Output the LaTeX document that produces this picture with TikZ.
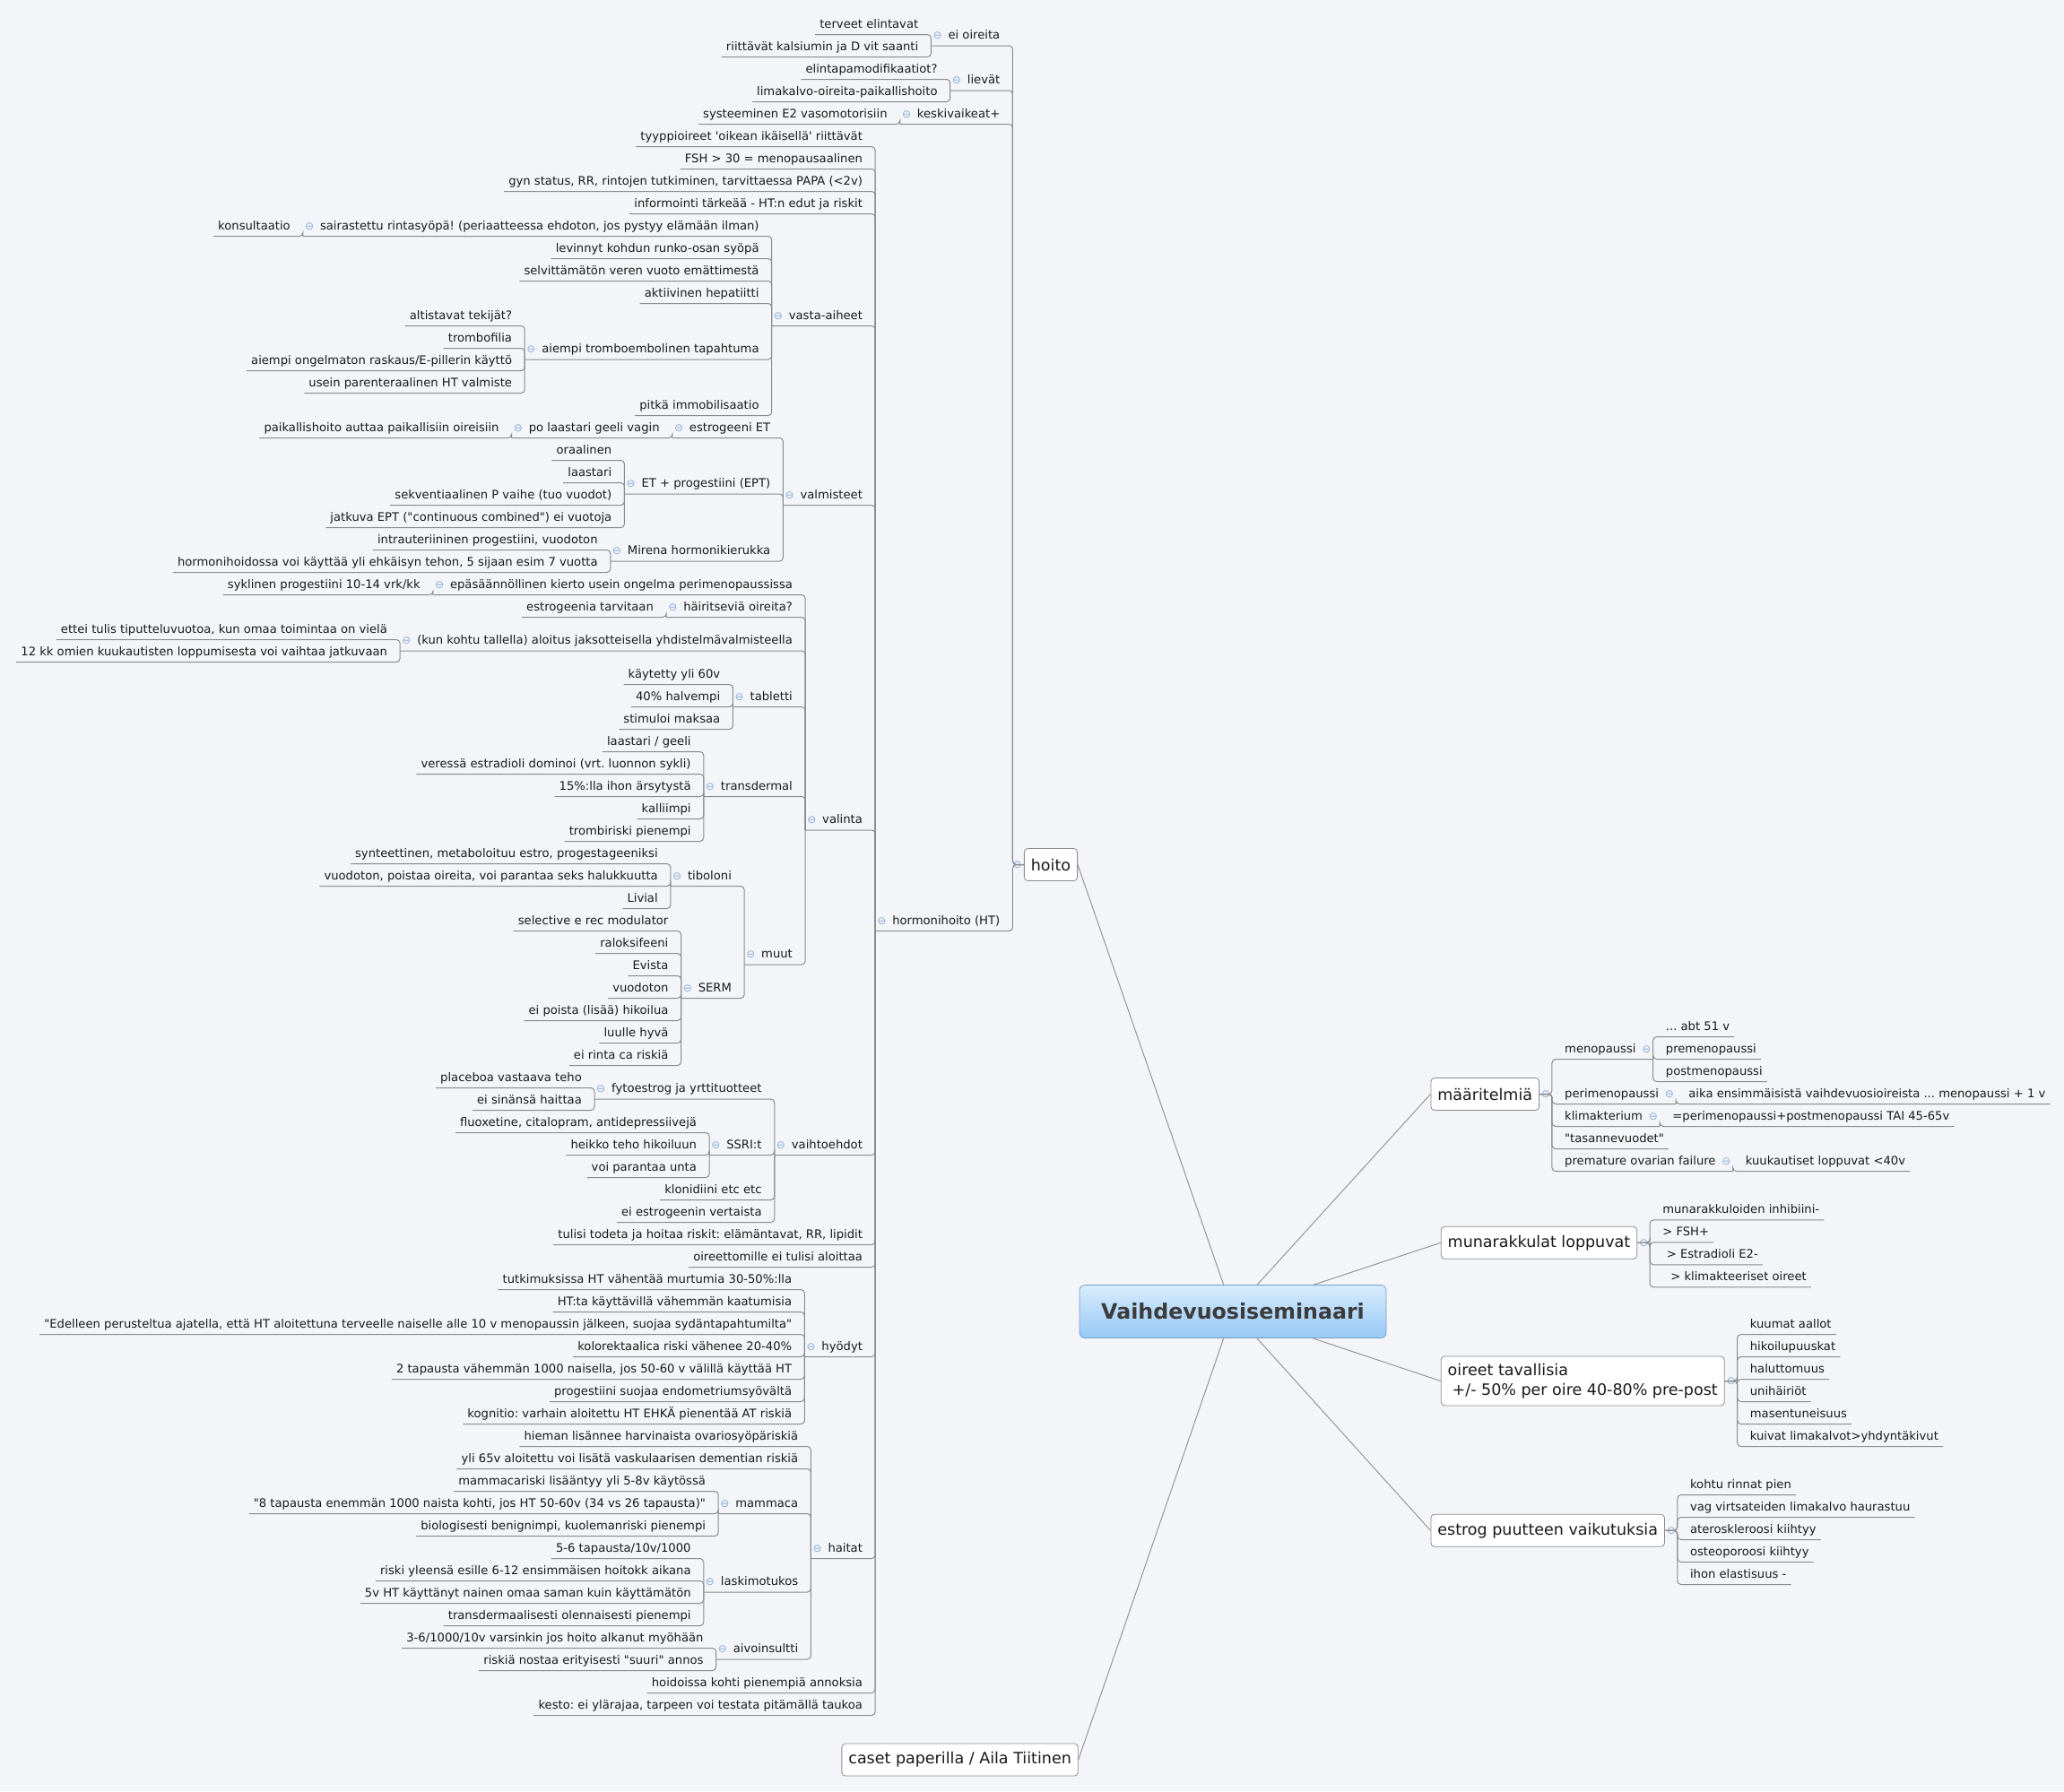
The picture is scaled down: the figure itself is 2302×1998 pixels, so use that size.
\documentclass[tikz,border=0pt]{standalone}
\usepackage{fontspec}
\setmainfont{DejaVu Sans}[Ligatures=TeXOff]
\frenchspacing

\definecolor{MapBack}{RGB}{243,245,248}
\definecolor{MapLine}{RGB}{140,140,140}
\definecolor{MapSpoke}{RGB}{150,150,150}
\definecolor{MapEdge}{RGB}{140,140,140}
\definecolor{MapFold}{RGB}{140,172,218}
\definecolor{MapText}{RGB}{25,25,25}
\definecolor{RootTop}{RGB}{216,236,253}
\definecolor{RootBottom}{RGB}{150,200,245}
\definecolor{RootEdge}{RGB}{120,160,200}
\definecolor{RootText}{RGB}{60,60,60}

\newcommand\leaffont{\fontsize{13.15pt}{15pt}\selectfont}
\newcommand\boxfont{\fontsize{17.5pt}{22pt}\selectfont}
\newcommand\rootfont{\fontsize{23.7pt}{28pt}\selectfont\bfseries}
\newcommand\foldmark{{\fontsize{12pt}{12pt}\selectfont\color{MapFold}⊖}}
\newcommand\foldL{\hspace*{-3pt}\foldmark\hspace*{6.9pt}}
\newcommand\foldR{\hspace*{6.9pt}\foldmark\hspace*{-3pt}}

\begin{document}
\begin{tikzpicture}[x=1pt, y=-1pt,
    lk/.style={draw=MapLine, line width=1pt, rounded corners=4pt},
    spoke/.style={draw=MapSpoke, line width=1pt},
    topic/.style={font=\leaffont, text=MapText, inner xsep=5pt, inner ysep=3.9pt, text height=13.4pt, text depth=3.4pt},
    subL/.style={topic, anchor=east, xshift=-9pt},
    subR/.style={topic, anchor=west, xshift=9pt},
    mapbox/.style={draw=MapEdge, fill=white, rounded corners=4pt, line width=0.8pt, font=\boxfont, text=MapText, inner xsep=7.5pt, inner ysep=8pt, minimum height=36pt},
    boxL/.style={mapbox, anchor=east, label={[inner sep=0pt, xshift=-2pt]west:\foldmark}},
    boxR/.style={mapbox, anchor=west, label={[inner sep=0pt, xshift=2pt]east:\foldmark}},
    rootbox/.style={draw=RootEdge, top color=RootTop, bottom color=RootBottom, rounded corners=6pt, line width=0.8pt, font=\rootfont, text=RootText, minimum width=342pt, minimum height=59pt}]

  % page and background
  \useasboundingbox (0,0) rectangle (2302,1998);
  \fill[MapBack] (0,0) rectangle (2302,1998);

  % central topic and main topics
  \node[rootbox] (root) at (1375,1463) {Vaihdevuosiseminaari};
  \node[boxL] (hoito) at (1202,964.5) {hoito};
  \node[mapbox, anchor=east] (caset) at (1202.7,1963) {caset paperilla / Aila Tiitinen};
  \node[boxR] (maaritelmia) at (1595.5,1220.5) {määritelmiä};
  \node[boxR] (munarakkulat) at (1606.8,1386.3) {munarakkulat loppuvat};
  \node[boxR, align=left] (oireet) at (1606.8,1540.5) {oireet tavallisia\\\hspace*{5pt}+/- 50\% per oire 40-80\% pre-post};
  \node[boxR] (estrog) at (1595.5,1707.3) {estrog puutteen vaikutuksia};

  \draw[spoke] (root) -- (hoito.east);
  \draw[spoke] (root) -- (caset.east);
  \draw[spoke] (root) -- (maaritelmia.west);
  \draw[spoke] (root) -- (munarakkulat.west);
  \draw[spoke] (root) -- (oireet.west);
  \draw[spoke] (root) -- (estrog.west);

  % hoito branch
  \node[subL, xshift=-12.5pt] (eiOireita) at (hoito.west |- 0,38.5) {\foldL ei oireita};
  \node[subL, xshift=-12.5pt] (lievat) at (hoito.west |- 0,88.5) {\foldL lievät};
  \node[subL, xshift=-12.5pt] (keskivaikeat) at (hoito.west |- 0,126) {\foldL keskivaikeat+};
  \node[subL, xshift=-12.5pt] (hormoni) at (hoito.west |- 0,1026) {\foldL hormonihoito (HT)};

  \node[subL] (terveet) at (eiOireita.west |- 0,26) {terveet elintavat};
  \node[subL] (kalsium) at (eiOireita.west |- 0,51) {riittävät kalsiumin ja D vit saanti};
  \node[subL] (elintapa) at (lievat.west |- 0,76) {elintapamodifikaatiot?};
  \node[subL] (limakalvo) at (lievat.west |- 0,101) {limakalvo-oireita-paikallishoito};
  \node[subL] (systeeminen) at (keskivaikeat.west |- 0,126) {systeeminen E2 vasomotorisiin};

  % hormonihoito (HT)
  \node[subL] (tyyppi) at (hormoni.west |- 0,151) {tyyppioireet 'oikean ikäisellä' riittävät};
  \node[subL] (fsh) at (hormoni.west |- 0,176) {FSH > 30 = menopausaalinen};
  \node[subL] (gyn) at (hormoni.west |- 0,201) {gyn status, RR, rintojen tutkiminen, tarvittaessa PAPA (<2v)};
  \node[subL] (informointi) at (hormoni.west |- 0,226) {informointi tärkeää - HT:n edut ja riskit};
  \node[subL] (vasta) at (hormoni.west |- 0,351) {\foldL vasta-aiheet};
  \node[subL] (valmisteet) at (hormoni.west |- 0,551) {\foldL valmisteet};
  \node[subL] (valinta) at (hormoni.west |- 0,913.5) {\foldL valinta};
  \node[subL] (vaihtoehdot) at (hormoni.west |- 0,1276) {\foldL vaihtoehdot};
  \node[subL] (riskit) at (hormoni.west |- 0,1376) {tulisi todeta ja hoitaa riskit: elämäntavat, RR, lipidit};
  \node[subL] (oireettomille) at (hormoni.west |- 0,1401) {oireettomille ei tulisi aloittaa};
  \node[subL] (hyodyt) at (hormoni.west |- 0,1501) {\foldL hyödyt};
  \node[subL] (haitat) at (hormoni.west |- 0,1726) {\foldL haitat};
  \node[subL] (annoksia) at (hormoni.west |- 0,1876) {hoidoissa kohti pienempiä annoksia};
  \node[subL] (kesto) at (hormoni.west |- 0,1901) {kesto: ei ylärajaa, tarpeen voi testata pitämällä taukoa};

  % vasta-aiheet
  \node[subL] (sairastettu) at (vasta.west |- 0,251) {\foldL sairastettu rintasyöpä! (periaatteessa ehdoton, jos pystyy elämään ilman)};
  \node[subL] (konsultaatio) at (sairastettu.west |- 0,251) {konsultaatio};
  \node[subL] (levinnyt) at (vasta.west |- 0,276) {levinnyt kohdun runko-osan syöpä};
  \node[subL] (selvittamaton) at (vasta.west |- 0,301) {selvittämätön veren vuoto emättimestä};
  \node[subL] (hepatiitti) at (vasta.west |- 0,326) {aktiivinen hepatiitti};
  \node[subL] (trombo) at (vasta.west |- 0,388.5) {\foldL aiempi tromboembolinen tapahtuma};
  \node[subL] (altistavat) at (trombo.west |- 0,351) {altistavat tekijät?};
  \node[subL] (trombofilia) at (trombo.west |- 0,376) {trombofilia};
  \node[subL] (ongelmaton) at (trombo.west |- 0,401) {aiempi ongelmaton raskaus/E-pillerin käyttö};
  \node[subL] (parenteraalinen) at (trombo.west |- 0,426) {usein parenteraalinen HT valmiste};
  \node[subL] (immob) at (vasta.west |- 0,451) {pitkä immobilisaatio};

  % valmisteet
  \node[subL] (estrogeeniET) at (valmisteet.west |- 0,476) {\foldL estrogeeni ET};
  \node[subL] (poLaastari) at (estrogeeniET.west |- 0,476) {\foldL po laastari geeli vagin};
  \node[subL] (paikallis) at (poLaastari.west |- 0,476) {paikallishoito auttaa paikallisiin oireisiin};
  \node[subL] (ept) at (valmisteet.west |- 0,538.5) {\foldL ET + progestiini (EPT)};
  \node[subL] (oraalinen) at (ept.west |- 0,501) {oraalinen};
  \node[subL] (laastari) at (ept.west |- 0,526) {laastari};
  \node[subL] (sekventiaalinen) at (ept.west |- 0,551) {sekventiaalinen P vaihe (tuo vuodot)};
  \node[subL] (jatkuva) at (ept.west |- 0,576) {jatkuva EPT ("continuous combined") ei vuotoja};
  \node[subL] (mirena) at (valmisteet.west |- 0,613.5) {\foldL Mirena hormonikierukka};
  \node[subL] (intrauter) at (mirena.west |- 0,601) {intrauteriininen progestiini, vuodoton};
  \node[subL] (ehkaisy) at (mirena.west |- 0,626) {hormonihoidossa voi käyttää yli ehkäisyn tehon, 5 sijaan esim 7 vuotta};

  % valinta
  \node[subL] (kierto) at (valinta.west |- 0,651) {\foldL epäsäännöllinen kierto usein ongelma perimenopaussissa};
  \node[subL] (syklinen) at (kierto.west |- 0,651) {syklinen progestiini 10-14 vrk/kk};
  \node[subL] (hairitsevia) at (valinta.west |- 0,676) {\foldL häiritseviä oireita?};
  \node[subL] (tarvitaan) at (hairitsevia.west |- 0,676) {estrogeenia tarvitaan};
  \node[subL] (kohtu) at (valinta.west |- 0,713.5) {\foldL (kun kohtu tallella) aloitus jaksotteisella yhdistelmävalmisteella};
  \node[subL] (tiputtelu) at (kohtu.west |- 0,701) {ettei tulis tiputteluvuotoa, kun omaa toimintaa on vielä};
  \node[subL] (jatkuvaan) at (kohtu.west |- 0,726) {12 kk omien kuukautisten loppumisesta voi vaihtaa jatkuvaan};
  \node[subL] (tabletti) at (valinta.west |- 0,776) {\foldL tabletti};
  \node[subL] (kaytetty) at (tabletti.west |- 0,751) {käytetty yli 60v};
  \node[subL] (halvempi) at (tabletti.west |- 0,776) {40\% halvempi};
  \node[subL] (maksaa) at (tabletti.west |- 0,801) {stimuloi maksaa};
  \node[subL] (transdermal) at (valinta.west |- 0,876) {\foldL transdermal};
  \node[subL] (geeli) at (transdermal.west |- 0,826) {laastari / geeli};
  \node[subL] (estradioli) at (transdermal.west |- 0,851) {veressä estradioli dominoi (vrt. luonnon sykli)};
  \node[subL] (arsytys) at (transdermal.west |- 0,876) {15\%:lla ihon ärsytystä};
  \node[subL] (kalliimpi) at (transdermal.west |- 0,901) {kalliimpi};
  \node[subL] (trombiriski) at (transdermal.west |- 0,926) {trombiriski pienempi};
  \node[subL] (muut) at (valinta.west |- 0,1063.5) {\foldL muut};
  \node[subL] (tiboloni) at (muut.west |- 0,976) {\foldL tiboloni};
  \node[subL] (synteettinen) at (tiboloni.west |- 0,951) {synteettinen, metaboloituu estro, progestageeniksi};
  \node[subL] (halukkuus) at (tiboloni.west |- 0,976) {vuodoton, poistaa oireita, voi parantaa seks halukkuutta};
  \node[subL] (livial) at (tiboloni.west |- 0,1001) {Livial};
  \node[subL] (serm) at (muut.west |- 0,1101) {\foldL SERM};
  \node[subL] (selective) at (serm.west |- 0,1026) {selective e rec modulator};
  \node[subL] (raloksifeeni) at (serm.west |- 0,1051) {raloksifeeni};
  \node[subL] (evista) at (serm.west |- 0,1076) {Evista};
  \node[subL] (vuodoton) at (serm.west |- 0,1101) {vuodoton};
  \node[subL] (hikoilua) at (serm.west |- 0,1126) {ei poista (lisää) hikoilua};
  \node[subL] (luulle) at (serm.west |- 0,1151) {luulle hyvä};
  \node[subL] (rintaCa) at (serm.west |- 0,1176) {ei rinta ca riskiä};

  % vaihtoehdot
  \node[subL] (fyto) at (vaihtoehdot.west |- 0,1213.5) {\foldL fytoestrog ja yrttituotteet};
  \node[subL] (placebo) at (fyto.west |- 0,1201) {placeboa vastaava teho};
  \node[subL] (haittaa) at (fyto.west |- 0,1226) {ei sinänsä haittaa};
  \node[subL] (ssri) at (vaihtoehdot.west |- 0,1276) {\foldL SSRI:t};
  \node[subL] (fluoxetine) at (ssri.west |- 0,1251) {fluoxetine, citalopram, antidepressiivejä};
  \node[subL] (heikko) at (ssri.west |- 0,1276) {heikko teho hikoiluun};
  \node[subL] (unta) at (ssri.west |- 0,1301) {voi parantaa unta};
  \node[subL] (klonidiini) at (vaihtoehdot.west |- 0,1326) {klonidiini etc etc};
  \node[subL] (vertaista) at (vaihtoehdot.west |- 0,1351) {ei estrogeenin vertaista};

  % hyödyt
  \node[subL] (murtumia) at (hyodyt.west |- 0,1426) {tutkimuksissa HT vähentää murtumia 30-50\%:lla};
  \node[subL] (kaatumisia) at (hyodyt.west |- 0,1451) {HT:ta käyttävillä vähemmän kaatumisia};
  \node[subL] (edelleen) at (hyodyt.west |- 0,1476) {"Edelleen perusteltua ajatella, että HT aloitettuna terveelle naiselle alle 10 v menopaussin jälkeen, suojaa sydäntapahtumilta"};
  \node[subL] (kolorektaali) at (hyodyt.west |- 0,1501) {kolorektaalica riski vähenee 20-40\%};
  \node[subL] (tapausta) at (hyodyt.west |- 0,1526) {2 tapausta vähemmän 1000 naisella, jos 50-60 v välillä käyttää HT};
  \node[subL] (endometrium) at (hyodyt.west |- 0,1551) {progestiini suojaa endometriumsyövältä};
  \node[subL] (kognitio) at (hyodyt.west |- 0,1576) {kognitio: varhain aloitettu HT EHKÄ pienentää AT riskiä};

  % haitat
  \node[subL] (ovario) at (haitat.west |- 0,1601) {hieman lisännee harvinaista ovariosyöpäriskiä};
  \node[subL] (dementia) at (haitat.west |- 0,1626) {yli 65v aloitettu voi lisätä vaskulaarisen dementian riskiä};
  \node[subL] (mammaca) at (haitat.west |- 0,1676) {\foldL mammaca};
  \node[subL] (mammaRiski) at (mammaca.west |- 0,1651) {mammacariski lisääntyy yli 5-8v käytössä};
  \node[subL] (kahdeksan) at (mammaca.west |- 0,1676) {"8 tapausta enemmän 1000 naista kohti, jos HT 50-60v (34 vs 26 tapausta)"};
  \node[subL] (benigni) at (mammaca.west |- 0,1701) {biologisesti benignimpi, kuolemanriski pienempi};
  \node[subL] (laskimo) at (haitat.west |- 0,1763.5) {\foldL laskimotukos};
  \node[subL] (kuusi) at (laskimo.west |- 0,1726) {5-6 tapausta/10v/1000};
  \node[subL] (hoitokk) at (laskimo.west |- 0,1751) {riski yleensä esille 6-12 ensimmäisen hoitokk aikana};
  \node[subL] (viisiv) at (laskimo.west |- 0,1776) {5v HT käyttänyt nainen omaa saman kuin käyttämätön};
  \node[subL] (transdermaali) at (laskimo.west |- 0,1801) {transdermaalisesti olennaisesti pienempi};
  \node[subL] (aivo) at (haitat.west |- 0,1838.5) {\foldL aivoinsultti};
  \node[subL] (myohaan) at (aivo.west |- 0,1826) {3-6/1000/10v varsinkin jos hoito alkanut myöhään};
  \node[subL] (annos) at (aivo.west |- 0,1851) {riskiä nostaa erityisesti "suuri" annos};

  % right side: määritelmiä
  \node[subR, xshift=14pt] (menopaussi) at (maaritelmia.east |- 0,1169) {menopaussi\foldR};
  \node[subR] (abt) at (menopaussi.east |- 0,1144) {... abt 51 v};
  \node[subR] (premeno) at (menopaussi.east |- 0,1169) {premenopaussi};
  \node[subR] (postmeno) at (menopaussi.east |- 0,1194) {postmenopaussi};
  \node[subR, xshift=14pt] (perimeno) at (maaritelmia.east |- 0,1219) {perimenopaussi\foldR};
  \node[subR] (aika) at (perimeno.east |- 0,1219) {aika ensimmäisistä vaihdevuosioireista ... menopaussi + 1 v};
  \node[subR, xshift=14pt] (klimakterium) at (maaritelmia.east |- 0,1244) {klimakterium\foldR};
  \node[subR] (klimDef) at (klimakterium.east |- 0,1244) {=perimenopaussi+postmenopaussi TAI 45-65v};
  \node[subR, xshift=14pt] (tasanne) at (maaritelmia.east |- 0,1269) {"tasannevuodet"};
  \node[subR, xshift=14pt] (premature) at (maaritelmia.east |- 0,1294) {premature ovarian failure\foldR};
  \node[subR] (alle40) at (premature.east |- 0,1294) {kuukautiset loppuvat <40v};

  % munarakkulat loppuvat
  \node[subR, xshift=14pt] (inhibiini) at (munarakkulat.east |- 0,1348.3) {munarakkuloiden inhibiini-};
  \node[subR, xshift=14pt] (fshPlus) at (munarakkulat.east |- 0,1373.3) {> FSH+};
  \node[subR, xshift=14pt] (estradioliMinus) at (munarakkulat.east |- 0,1398.3) {\hspace*{4.5pt}> Estradioli E2-};
  \node[subR, xshift=14pt] (klimOireet) at (munarakkulat.east |- 0,1423.3) {\hspace*{9pt}> klimakteeriset oireet};

  % oireet tavallisia
  \node[subR, xshift=14pt] (kuumat) at (oireet.east |- 0,1476) {kuumat aallot};
  \node[subR, xshift=14pt] (puuskat) at (oireet.east |- 0,1501) {hikoilupuuskat};
  \node[subR, xshift=14pt] (haluttomuus) at (oireet.east |- 0,1526) {haluttomuus};
  \node[subR, xshift=14pt] (unihairiot) at (oireet.east |- 0,1551) {unihäiriöt};
  \node[subR, xshift=14pt] (masentuneisuus) at (oireet.east |- 0,1576) {masentuneisuus};
  \node[subR, xshift=14pt] (kuivat) at (oireet.east |- 0,1601) {kuivat limakalvot>yhdyntäkivut};

  % estrog puutteen vaikutuksia
  \node[subR, xshift=14pt] (rinnat) at (estrog.east |- 0,1655) {kohtu rinnat pien};
  \node[subR, xshift=14pt] (vag) at (estrog.east |- 0,1680) {vag virtsateiden limakalvo haurastuu};
  \node[subR, xshift=14pt] (atero) at (estrog.east |- 0,1705) {ateroskleroosi kiihtyy};
  \node[subR, xshift=14pt] (osteo) at (estrog.east |- 0,1730) {osteoporoosi kiihtyy};
  \node[subR, xshift=14pt] (ihon) at (estrog.east |- 0,1755) {ihon elastisuus -};

  % connectors, left side
  \foreach \c in {eiOireita,lievat,keskivaikeat,hormoni}
    \draw[lk] (hoito.west) -- ++(-12.5,0) |- (\c.south east) -- (\c.south west);
  \foreach \c in {terveet,kalsium} \draw[lk] (eiOireita.south west) |- (\c.south east) -- (\c.south west);
  \foreach \c in {elintapa,limakalvo} \draw[lk] (lievat.south west) |- (\c.south east) -- (\c.south west);
  \foreach \c in {systeeminen} \draw[lk] (keskivaikeat.south west) |- (\c.south east) -- (\c.south west);
  \foreach \c in {tyyppi,fsh,gyn,informointi,vasta,valmisteet,valinta,vaihtoehdot,riskit,oireettomille,hyodyt,haitat,annoksia,kesto}
    \draw[lk] (hormoni.south west) |- (\c.south east) -- (\c.south west);
  \foreach \c in {sairastettu,levinnyt,selvittamaton,hepatiitti,trombo,immob}
    \draw[lk] (vasta.south west) |- (\c.south east) -- (\c.south west);
  \foreach \c in {konsultaatio} \draw[lk] (sairastettu.south west) |- (\c.south east) -- (\c.south west);
  \foreach \c in {altistavat,trombofilia,ongelmaton,parenteraalinen} \draw[lk] (trombo.south west) |- (\c.south east) -- (\c.south west);
  \foreach \c in {estrogeeniET,ept,mirena} \draw[lk] (valmisteet.south west) |- (\c.south east) -- (\c.south west);
  \foreach \c in {poLaastari} \draw[lk] (estrogeeniET.south west) |- (\c.south east) -- (\c.south west);
  \foreach \c in {paikallis} \draw[lk] (poLaastari.south west) |- (\c.south east) -- (\c.south west);
  \foreach \c in {oraalinen,laastari,sekventiaalinen,jatkuva} \draw[lk] (ept.south west) |- (\c.south east) -- (\c.south west);
  \foreach \c in {intrauter,ehkaisy} \draw[lk] (mirena.south west) |- (\c.south east) -- (\c.south west);
  \foreach \c in {kierto,hairitsevia,kohtu,tabletti,transdermal,muut} \draw[lk] (valinta.south west) |- (\c.south east) -- (\c.south west);
  \foreach \c in {syklinen} \draw[lk] (kierto.south west) |- (\c.south east) -- (\c.south west);
  \foreach \c in {tarvitaan} \draw[lk] (hairitsevia.south west) |- (\c.south east) -- (\c.south west);
  \foreach \c in {tiputtelu,jatkuvaan} \draw[lk] (kohtu.south west) |- (\c.south east) -- (\c.south west);
  \foreach \c in {kaytetty,halvempi,maksaa} \draw[lk] (tabletti.south west) |- (\c.south east) -- (\c.south west);
  \foreach \c in {geeli,estradioli,arsytys,kalliimpi,trombiriski} \draw[lk] (transdermal.south west) |- (\c.south east) -- (\c.south west);
  \foreach \c in {tiboloni,serm} \draw[lk] (muut.south west) |- (\c.south east) -- (\c.south west);
  \foreach \c in {synteettinen,halukkuus,livial} \draw[lk] (tiboloni.south west) |- (\c.south east) -- (\c.south west);
  \foreach \c in {selective,raloksifeeni,evista,vuodoton,hikoilua,luulle,rintaCa} \draw[lk] (serm.south west) |- (\c.south east) -- (\c.south west);
  \foreach \c in {fyto,ssri,klonidiini,vertaista} \draw[lk] (vaihtoehdot.south west) |- (\c.south east) -- (\c.south west);
  \foreach \c in {placebo,haittaa} \draw[lk] (fyto.south west) |- (\c.south east) -- (\c.south west);
  \foreach \c in {fluoxetine,heikko,unta} \draw[lk] (ssri.south west) |- (\c.south east) -- (\c.south west);
  \foreach \c in {murtumia,kaatumisia,edelleen,kolorektaali,tapausta,endometrium,kognitio}
    \draw[lk] (hyodyt.south west) |- (\c.south east) -- (\c.south west);
  \foreach \c in {ovario,dementia,mammaca,laskimo,aivo} \draw[lk] (haitat.south west) |- (\c.south east) -- (\c.south west);
  \foreach \c in {mammaRiski,kahdeksan,benigni} \draw[lk] (mammaca.south west) |- (\c.south east) -- (\c.south west);
  \foreach \c in {kuusi,hoitokk,viisiv,transdermaali} \draw[lk] (laskimo.south west) |- (\c.south east) -- (\c.south west);
  \foreach \c in {myohaan,annos} \draw[lk] (aivo.south west) |- (\c.south east) -- (\c.south west);

  % connectors, right side
  \foreach \c in {menopaussi,perimeno,klimakterium,tasanne,premature}
    \draw[lk] (maaritelmia.east) -- ++(14,0) |- (\c.south west) -- (\c.south east);
  \foreach \c in {abt,premeno,postmeno} \draw[lk] (menopaussi.south east) |- (\c.south west) -- (\c.south east);
  \foreach \c in {aika} \draw[lk] (perimeno.south east) |- (\c.south west) -- (\c.south east);
  \foreach \c in {klimDef} \draw[lk] (klimakterium.south east) |- (\c.south west) -- (\c.south east);
  \foreach \c in {alle40} \draw[lk] (premature.south east) |- (\c.south west) -- (\c.south east);
  \foreach \c in {inhibiini,fshPlus,estradioliMinus,klimOireet}
    \draw[lk] (munarakkulat.east) -- ++(14,0) |- (\c.south west) -- (\c.south east);
  \foreach \c in {kuumat,puuskat,haluttomuus,unihairiot,masentuneisuus,kuivat}
    \draw[lk] (oireet.east) -- ++(14,0) |- (\c.south west) -- (\c.south east);
  \foreach \c in {rinnat,vag,atero,osteo,ihon}
    \draw[lk] (estrog.east) -- ++(14,0) |- (\c.south west) -- (\c.south east);
\end{tikzpicture}
\end{document}
